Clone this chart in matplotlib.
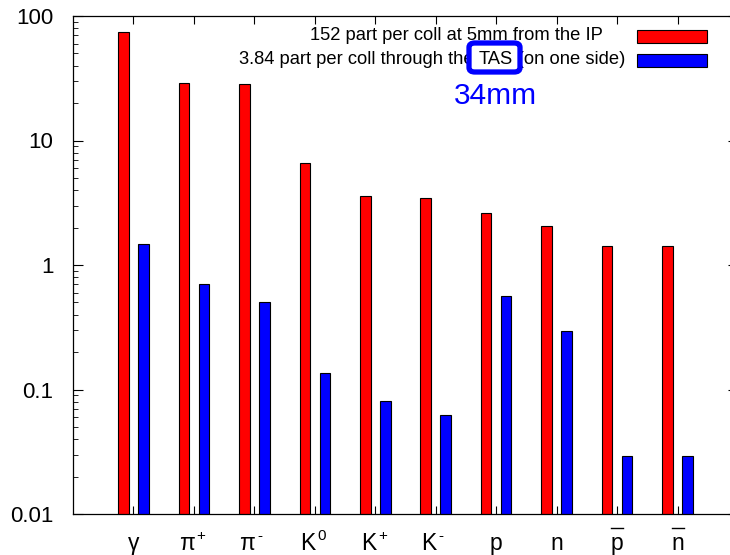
import numpy as np
import matplotlib
matplotlib.use("Agg")
import matplotlib.pyplot as plt
import matplotlib.transforms as mtransforms
from matplotlib.patches import Rectangle, FancyBboxPatch

plt.rcParams['font.family'] = ['Liberation Sans', 'DejaVu Sans']

# particle species: base symbol, superscript, antiparticle bar
base = ['γ', 'π', 'π', 'K', 'K', 'K', 'p', 'n', 'p', 'n']
sup = ['', '+', '-', '0', '+', '-', '', '', '', '']
bar = [False, False, False, False, False, False, False, False, True, True]
# yields (particles per collision)
at_ip = [74.0, 29.1, 28.4, 6.6, 3.55, 3.43, 2.6, 2.06, 1.43, 1.43]
through_tas = [1.47, 0.70, 0.507, 0.136, 0.081, 0.0624, 0.564, 0.297, 0.029, 0.029]

W, H = 730, 555
fig = plt.figure(figsize=(W / 100, H / 100), dpi=100)
ax = fig.add_axes([73 / W, 1 - 514 / H, 665 / W, 498 / H])

x = np.arange(len(base))
ax.bar(x - 0.165, at_ip, width=0.175, color='#ff0000', edgecolor='black', linewidth=0.8)
ax.bar(x + 0.165, through_tas, width=0.175, color='#0000ff', edgecolor='black', linewidth=0.8)

ax.set_yscale('log')
ax.set_ylim(0.01, 100)
ax.set_xlim(-1, 10)
ax.set_xticks(x)
ax.set_xticklabels([])
ax.set_yticks([0.01, 0.1, 1, 10, 100])
ax.set_yticklabels(['0.01', '0.1', '1', '10', '100'], fontsize=16)
ax.tick_params(axis='both', which='both', direction='in', top=True, right=True)
ax.tick_params(axis='y', which='major', length=7, width=0.8, pad=14)
ax.tick_params(axis='y', which='minor', length=3.5, width=0.6)
ax.tick_params(axis='x', which='major', length=6, width=0.8)
for s in ax.spines.values():
    s.set_linewidth(0.9)

# category labels with superscripts and bars, gnuplot style
bar_trans = mtransforms.offset_copy(ax.get_xaxis_transform(), fig=fig, y=-10, units='points')
for i in range(len(base)):
    if sup[i]:
        ax.annotate(base[i], xy=(i, 0), xycoords=('data', 'axes fraction'), xytext=(0.5, -26),
                    textcoords='offset points', ha='right', va='baseline', fontsize=16.5,
                    annotation_clip=False)
        ax.annotate(sup[i], xy=(i, 0), xycoords=('data', 'axes fraction'), xytext=(2, -19),
                    textcoords='offset points', ha='left', va='baseline', fontsize=11,
                    annotation_clip=False)
    else:
        ax.annotate(base[i], xy=(i, 0), xycoords=('data', 'axes fraction'), xytext=(0, -26),
                    textcoords='offset points', ha='center', va='baseline', fontsize=16.5,
                    annotation_clip=False)
    if bar[i]:
        ax.plot([i - 0.1, i + 0.1], [0, 0], color='black', lw=1.0,
                transform=bar_trans, clip_on=False)

# legend drawn in pixel positions like the gnuplot key
def fx(px):
    return px / W

def fy(py):
    return 1 - py / H

fig.text(fx(603), fy(36), '152 part per coll at 5mm from the IP', ha='right', va='center', fontsize=13.2)
fig.text(fx(625), fy(60), '3.84 part per coll through the TAS (on one side)', ha='right', va='center', fontsize=13.2)
fig.add_artist(Rectangle((fx(637), fy(43)), 70 / W, 13 / H, transform=fig.transFigure,
                         facecolor='#ff0000', edgecolor='black', linewidth=0.8))
fig.add_artist(Rectangle((fx(637), fy(67)), 70 / W, 13 / H, transform=fig.transFigure,
                         facecolor='#0000ff', edgecolor='black', linewidth=0.8))

# highlighted TAS annotation
fig.add_artist(FancyBboxPatch((fx(469), fy(72)), 51 / W, 29 / H, transform=fig.transFigure,
                              boxstyle='round,pad=0,rounding_size=0.008',
                              facecolor='white', edgecolor='#0000ff', linewidth=3.8, zorder=5))
fig.text(fx(496), fy(59), 'TAS', ha='center', va='center', fontsize=13.2, zorder=6)
fig.text(fx(495), fy(96), '34mm', ha='center', va='center', fontsize=21.5, color='#0000ff')

fig.savefig('out.png', dpi=100)
